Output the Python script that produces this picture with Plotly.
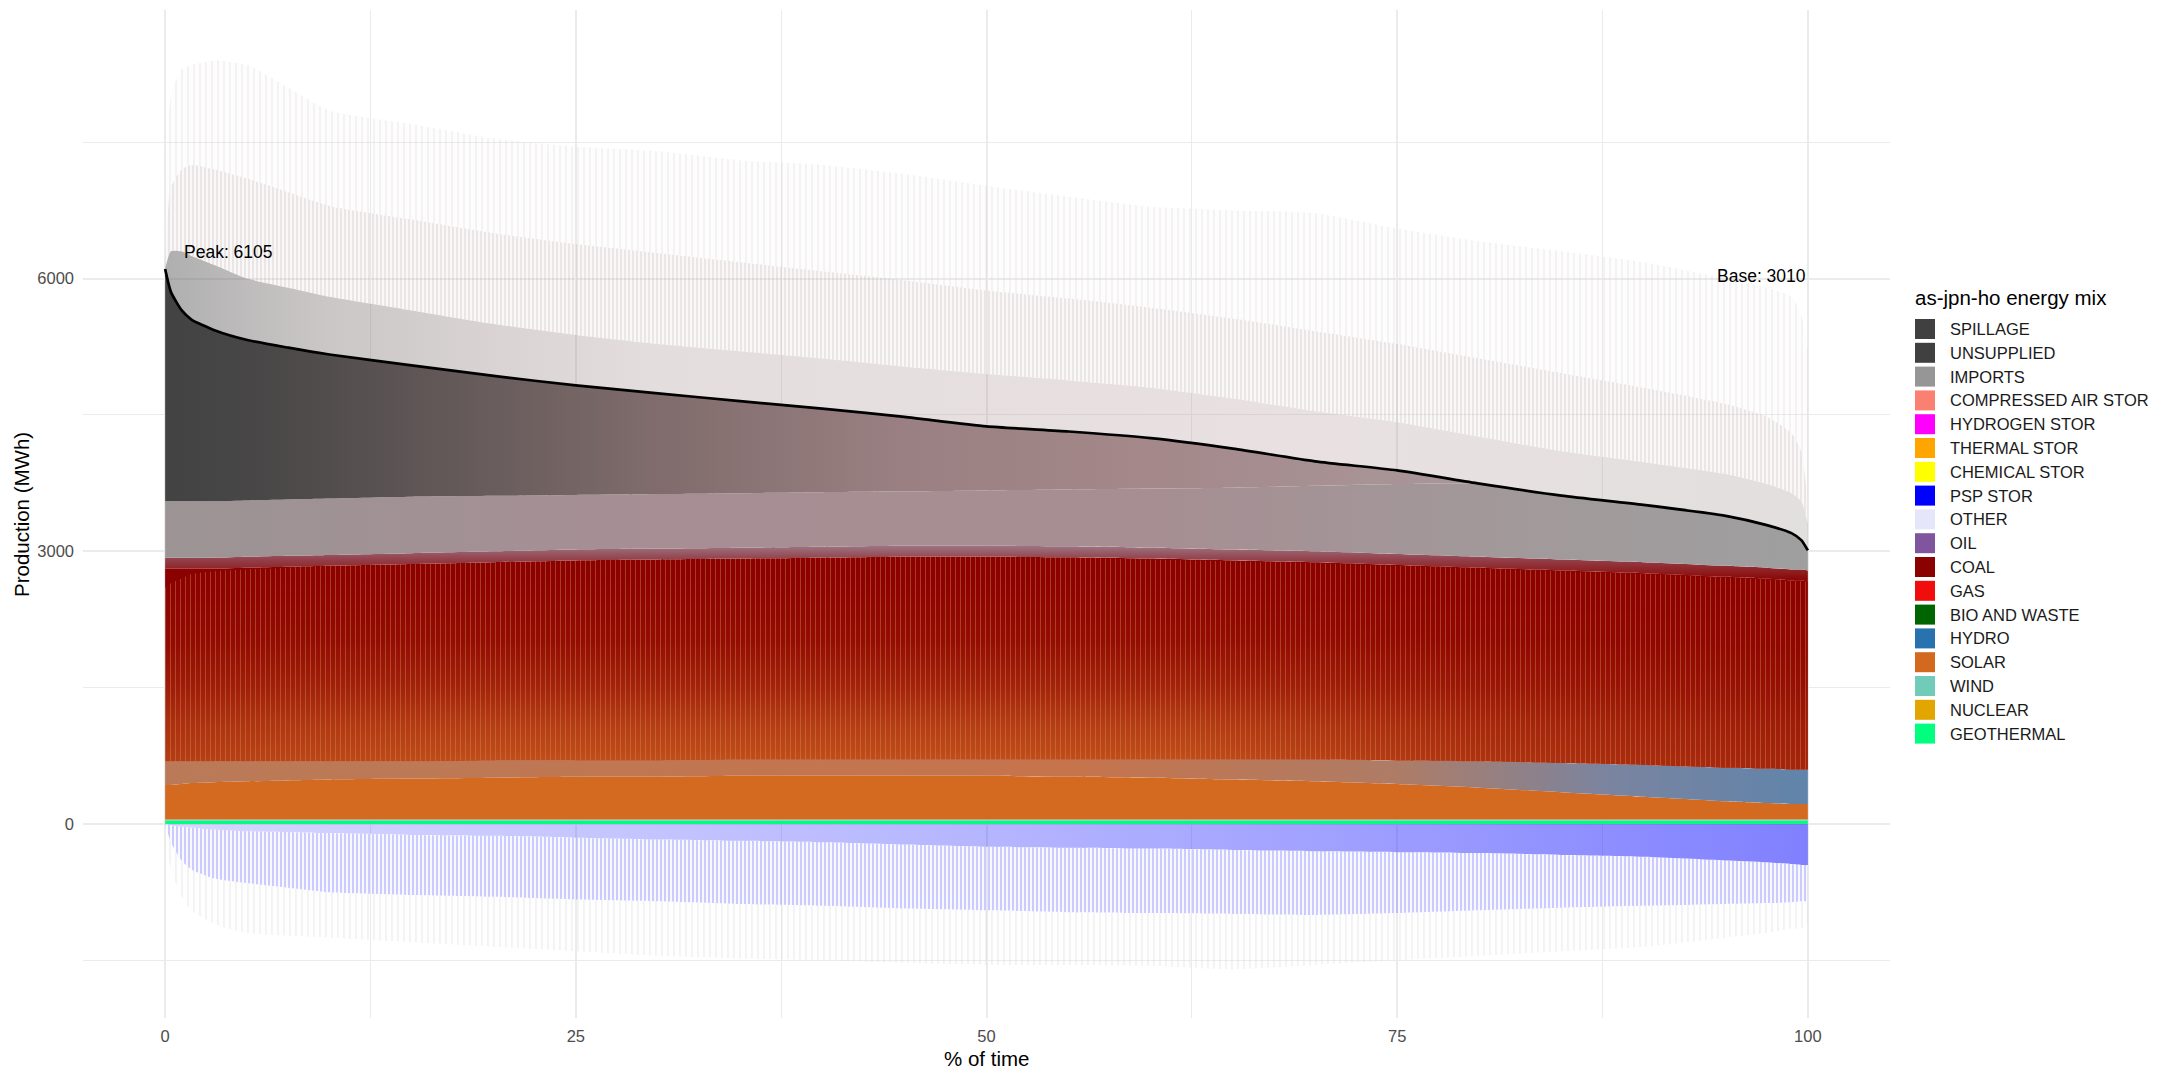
import numpy as np
import plotly.graph_objects as go

# ---------------- data ----------------
pct_time = [0, 0.35, 1, 1.6, 3, 5, 7.5, 10, 15, 20, 25, 30, 35, 40, 45, 50,
            55, 60, 65, 70, 75, 80, 85, 90, 95, 97.5, 99, 99.6, 100]

load = [6105, 5854, 5653, 5550, 5433, 5325, 5240, 5165, 5045, 4930, 4825, 4738,
        4652, 4570, 4478, 4375, 4318, 4245, 4130, 3990, 3890, 3745, 3612, 3510,
        3390, 3288, 3200, 3123, 3010]

geothermal = [35, 35, 35, 35, 35, 35, 35, 35, 35, 35, 35, 35, 35, 35, 35, 35,
              35, 35, 35, 35, 35, 35, 35, 35, 35, 35, 35, 35, 35]
wind = [15, 15, 15, 15, 15, 15, 15, 15, 15, 15, 15, 15, 15, 15, 15, 15,
        15, 15, 15, 15, 15, 15, 15, 15, 15, 15, 15, 15, 15]
solar = [380, 380, 390, 400, 410, 420, 430, 440, 450, 460, 470, 470, 480, 480,
         480, 480, 470, 460, 440, 420, 390, 350, 300, 250, 200, 180, 170, 170, 170]
hydro = [260, 260, 250, 240, 230, 220, 210, 200, 190, 190, 180, 180, 180, 180,
         180, 180, 190, 200, 220, 240, 260, 290, 320, 350, 370, 380, 380, 380, 380]
coal = [2120, 2120, 2120, 2120, 2120, 2130, 2140, 2150, 2170, 2180, 2200, 2210,
        2210, 2220, 2230, 2230, 2225, 2210, 2190, 2170, 2150, 2130, 2120, 2110,
        2100, 2090, 2080, 2080, 2070]
psp_gen = [120, 120, 120, 120, 120, 120, 120, 120, 120, 120, 120, 120, 120, 120,
           120, 120, 120, 120, 120, 120, 120, 120, 120, 120, 120, 120, 120, 120, 120]
imports = [620, 620, 620, 620, 620, 620, 620, 620, 620, 610, 600, 600, 600, 600,
           600, 610, 625, 650, 680, 720, 770, 805, 702, 630, 550, 468, 400, 323, 220]
unsupplied = [2555, 2304, 2103, 2000, 1883, 1765, 1670, 1585, 1445, 1320, 1205,
              1108, 1012, 920, 818, 705, 638, 555, 430, 270, 150, 0, 0, 0, 0, 0,
              0, 0, 0]

# upper reach of the solar stripes running through the coal layer
solar_reach = [2600, 2650, 2700, 2750, 2780, 2800, 2820, 2840, 2860, 2880, 2900,
               2910, 2920, 2930, 2940, 2940, 2930, 2910, 2890, 2870, 2840, 2810,
               2780, 2750, 2710, 2690, 2670, 2670, 2660]

# production above the load curve (spikes): dense / medium / faint envelopes
over_dense = [6105, 6300, 6300, 6250, 6150, 6000, 5900, 5800, 5650, 5500, 5380,
              5280, 5200, 5120, 5030, 4950, 4880, 4800, 4680, 4540, 4420, 4260,
              4100, 3980, 3850, 3740, 3640, 3550, 3300]
over_mid = [6105, 7000, 7200, 7250, 7200, 7100, 6950, 6800, 6650, 6500, 6380,
            6280, 6180, 6080, 5980, 5870, 5780, 5680, 5560, 5420, 5280, 5120,
            4960, 4800, 4620, 4480, 4300, 4100, 3500]
over_max = [6105, 8000, 8300, 8350, 8400, 8350, 8100, 7850, 7700, 7540, 7450,
            7400, 7300, 7250, 7150, 7020, 6900, 6790, 6750, 6720, 6550, 6410,
            6300, 6180, 6000, 5900, 5800, 5600, 5200]

# negative side: PSP pumping (dense / reach) and faint negative spikes
pump_dense = [0, -10, -30, -40, -60, -80, -90, -100, -120, -130, -150, -170, -185,
              -200, -225, -250, -260, -270, -285, -300, -310, -320, -340, -360,
              -400, -420, -440, -450, -450]
pump_reach = [0, -200, -400, -500, -600, -650, -700, -750, -780, -800, -830, -850,
              -880, -900, -930, -950, -970, -980, -990, -1000, -980, -950, -920,
              -900, -880, -870, -860, -850, -850]
neg_reach = [0, -500, -800, -950, -1100, -1200, -1230, -1250, -1300, -1350, -1400,
             -1450, -1480, -1500, -1530, -1550, -1550, -1560, -1600, -1550, -1500,
             -1450, -1400, -1350, -1250, -1200, -1150, -1150, -1100]

legend_names = ["SPILLAGE", "UNSUPPLIED", "IMPORTS", "COMPRESSED AIR STOR",
                "HYDROGEN STOR", "THERMAL STOR", "CHEMICAL STOR", "PSP STOR",
                "OTHER", "OIL", "COAL", "GAS", "BIO AND WASTE", "HYDRO", "SOLAR",
                "WIND", "NUCLEAR", "GEOTHERMAL"]
legend_colors = ["#404040", "#404040", "#969696", "#FA8072", "#FF00FF", "#FFA500",
                 "#FFFF00", "#0000FF", "#E6E6FA", "#80559E", "#8B0000", "#F20D0D",
                 "#006400", "#2872B0", "#D2691E", "#70CBB8", "#E3A600", "#00FF7F"]

peak_label = "Peak: 6105"
base_label = "Base: 3010"

# ---------------- figure ----------------
W, H = 2160, 1080
L, R, T, B = 83, 1890, 10, 1018
FONT = "Liberation Sans, Arial, sans-serif"

x = np.array(pct_time, dtype=float)
fig = go.Figure()


def add_line(y, fill=None, fillcolor=None, fillgradient=None, fillpattern=None):
    kw = dict(x=x, y=np.asarray(y, dtype=float), mode="lines",
              line=dict(width=0, shape="spline", smoothing=0.6),
              hoverinfo="skip", showlegend=False)
    if fill:
        kw["fill"] = fill
    if fillcolor:
        kw["fillcolor"] = fillcolor
    if fillgradient:
        kw["fillgradient"] = fillgradient
    if fillpattern:
        kw["fillpattern"] = fillpattern
    fig.add_trace(go.Scatter(**kw))


def hgrad(stops):
    return dict(type="horizontal", start=0, stop=100, colorscale=stops)


def stripes(fg, size, solidity, opacity, bg="rgba(0,0,0,0)"):
    return dict(shape="|", size=size, solidity=solidity, fgcolor=fg,
                fgopacity=opacity, bgcolor=bg)


# positive stack
stack = [
    (geothermal, "#00FF7F", None),
    (wind, "#70CBB8", None),
    (solar, "#D36A1F", None),
    (hydro, None, hgrad([[0, "#BA7A58"], [0.55, "#C6744C"], [0.75, "#AE7C66"],
                         [0.88, "#7A84A0"], [1, "#6084AA"]])),
    (coal, "#8B0000", None),
    (psp_gen, None, dict(type="vertical", start=2700, stop=3120,
                         colorscale=[[0, "#8C0A08"], [0.5, "#93404A"], [1, "#A08A98"]])),
    (imports, None, hgrad([[0, "#9C9494"], [0.3, "#A68E94"], [0.6, "#A68E92"],
                           [0.8, "#A2989A"], [1, "#9F9F9F"]])),
    (unsupplied, None, hgrad([[0, "#434343"], [0.06, "#494747"], [0.15, "#5E5555"],
                              [0.3, "#806C6C"], [0.45, "#9A8082"], [0.6, "#A4888A"],
                              [0.75, "#A89496"], [1, "#A8A0A0"]])),
]
cum = np.zeros(len(x))
tops = []
for i, (vals, col, grad) in enumerate(stack):
    cum = cum + np.asarray(vals, dtype=float)
    tops.append(cum.copy())
    add_line(cum, fill="tozeroy" if i == 0 else "tonexty", fillcolor=col,
             fillgradient=grad)
stack_top = cum.copy()
bottom_band_top = tops[3]
coal_top = tops[4]

# solar stripes through the coal layer (smooth blend + stripe texture)
add_line(bottom_band_top)
add_line(solar_reach, fill="tonexty",
         fillgradient=dict(type="vertical", start=650, stop=2900,
                           colorscale=[[0, "rgba(214,110,38,0.72)"],
                                       [0.2, "rgba(214,110,38,0.55)"],
                                       [0.38, "rgba(214,110,38,0.32)"],
                                       [0.6, "rgba(214,110,38,0.12)"],
                                       [0.82, "rgba(214,110,38,0.04)"],
                                       [1, "rgba(214,110,38,0.0)"]]))
# coal dominance at both ends of the curve
add_line(bottom_band_top)
add_line(coal_top, fill="tonexty",
         fillgradient=hgrad([[0, "rgba(139,0,0,0.22)"], [0.08, "rgba(139,0,0,0.10)"],
                             [0.2, "rgba(139,0,0,0.0)"], [0.62, "rgba(139,0,0,0.0)"],
                             [0.8, "rgba(139,0,0,0.35)"], [1, "rgba(139,0,0,0.55)"]]))
add_line(bottom_band_top)
add_line(solar_reach, fill="tonexty", fillpattern=stripes("#DC8E50", 5, 0.2, 0.4))

# spikes above load
add_line(stack_top)
add_line(over_dense, fill="tonexty",
         fillgradient=hgrad([[0, "rgba(95,95,95,0.50)"], [0.1, "rgba(125,115,115,0.40)"],
                             [0.3, "rgba(160,135,135,0.28)"], [0.7, "rgba(170,140,140,0.26)"],
                             [1, "rgba(165,155,155,0.32)"]]))
add_line(over_mid, fill="tonexty",
         fillpattern=stripes("#B09898", 4, 0.25, 0.40, "rgba(215,205,205,0.14)"))
add_line(over_max, fill="tonexty",
         fillpattern=stripes("#CDC2C2", 6, 0.17, 0.40, "rgba(232,228,228,0.07)"))

# negative side
add_line(np.zeros(len(x)))
add_line(pump_dense, fill="tonexty",
         fillgradient=hgrad([[0, "rgba(70,70,255,0.22)"], [0.5, "rgba(50,50,255,0.36)"],
                             [1, "rgba(25,25,255,0.55)"]]))
add_line(pump_reach, fill="tonexty",
         fillpattern=stripes("#5A5AFF", 4, 0.22, 0.65, "rgba(205,205,255,0.14)"))
add_line(neg_reach, fill="tonexty",
         fillpattern=stripes("#CCCCCC", 6, 0.17, 0.45, "rgba(236,236,236,0.08)"))

# load duration curve
fig.add_trace(go.Scatter(x=x, y=load, mode="lines",
                         line=dict(color="black", width=2.7, shape="spline", smoothing=0.6),
                         hoverinfo="skip", showlegend=False))


def px2paper(px, py):
    return (px - L) / (R - L), (B - py) / (B - T)


annotations = []
shapes = []

annotations.append(dict(x=1.0, y=6291, xref="x", yref="y", text=peak_label,
                        showarrow=False, xanchor="left", yanchor="middle",
                        font=dict(family=FONT, size=17.5, color="black")))
annotations.append(dict(x=100, y=6032, xref="x", yref="y", text=base_label,
                        showarrow=False, xanchor="right", yanchor="middle",
                        font=dict(family=FONT, size=17.5, color="black")))

ax, ay = px2paper(986.5, 1058)
annotations.append(dict(x=ax, y=ay, xref="paper", yref="paper", text="% of time",
                        showarrow=False, xanchor="center", yanchor="middle",
                        font=dict(family=FONT, size=20.5, color="black")))
ax, ay = px2paper(21, 514)
annotations.append(dict(x=ax, y=ay, xref="paper", yref="paper", text="Production (MWh)",
                        showarrow=False, xanchor="center", yanchor="middle", textangle=-90,
                        font=dict(family=FONT, size=20.5, color="black")))

tx, ty = px2paper(1913, 297)
annotations.append(dict(x=tx, y=ty, xref="paper", yref="paper", text="as-jpn-ho energy mix",
                        showarrow=False, xanchor="left", yanchor="middle",
                        font=dict(family=FONT, size=20.5, color="black")))
for i, (nm, col) in enumerate(zip(legend_names, legend_colors)):
    yc = 329 + 23.8 * i
    x0, y0 = px2paper(1915, yc + 10)
    x1, y1 = px2paper(1935, yc - 10)
    shapes.append(dict(type="rect", xref="paper", yref="paper", x0=x0, x1=x1, y0=y0, y1=y1,
                       fillcolor=col, line=dict(width=0)))
    lx, ly = px2paper(1948, yc)
    annotations.append(dict(x=lx, y=ly, xref="paper", yref="paper", text=nm,
                            showarrow=False, xanchor="left", yanchor="middle",
                            font=dict(family=FONT, size=16.5, color="#1A1A1A")))

grid = "#EBEBEB"
fig.update_layout(
    width=W, height=H,
    margin=dict(l=L, r=W - R, t=T, b=H - B, autoexpand=False),
    paper_bgcolor="white", plot_bgcolor="white",
    showlegend=False,
    font=dict(family=FONT),
    annotations=annotations, shapes=shapes,
    xaxis=dict(range=[-5, 105], tickmode="array", tickvals=[0, 25, 50, 75, 100],
               showgrid=True, gridcolor=grid, gridwidth=2, zeroline=False,
               showline=False, ticks="", ticklabelstandoff=6,
               tickfont=dict(family=FONT, size=16.5, color="#4D4D4D"),
               minor=dict(tickmode="array", tickvals=[12.5, 37.5, 62.5, 87.5],
                          showgrid=True, gridcolor=grid, gridwidth=1)),
    yaxis=dict(range=[-2134, 8955], tickmode="array", tickvals=[0, 3000, 6000],
               showgrid=True, gridcolor=grid, gridwidth=2, zeroline=False,
               showline=False, ticks="", ticklabelstandoff=8,
               tickfont=dict(family=FONT, size=16.5, color="#4D4D4D"),
               minor=dict(tickmode="array", tickvals=[-1500, 1500, 4500, 7500],
                          showgrid=True, gridcolor=grid, gridwidth=1)),
)

fig.write_html("out.html")
